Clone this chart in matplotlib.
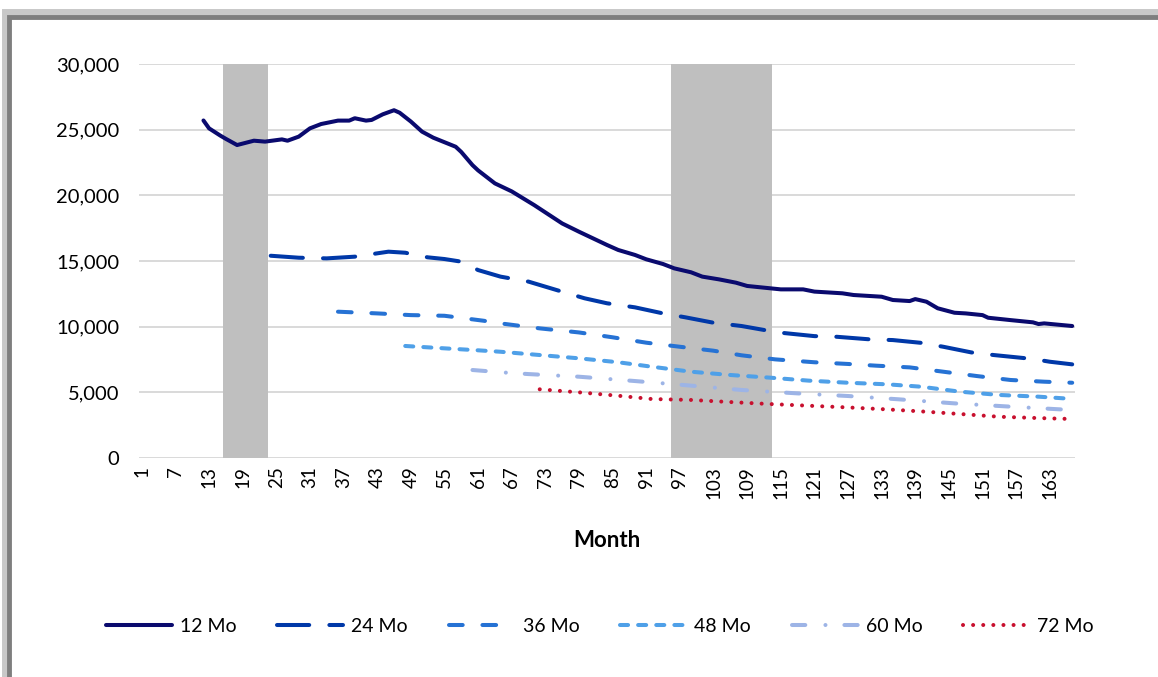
import matplotlib
matplotlib.use("Agg")
import matplotlib.pyplot as plt
from matplotlib.patches import Rectangle

plt.rcParams['font.family'] = ['Lato', 'DejaVu Sans']

# category axis: months 1..167
n_months = 167
tick_months = list(range(1, n_months + 1, 6))

# recession shading (months)
rec_months = list(range(16, 24)) + list(range(96, 114))
rec_height = 30000

# series: (month, value)
m12_x = [12, 13, 15, 16, 18, 21, 23, 26, 27, 29, 31, 33, 36, 38, 39, 41, 42, 44, 46, 47,
         49, 51, 53, 57, 58, 60, 61, 64, 67, 71, 76, 79, 84, 86, 89, 91, 94, 96, 99, 101,
         104, 107, 109, 112, 115, 119, 121, 126, 128, 133, 135, 138, 139, 141, 143, 146,
         148, 151, 152, 156, 160, 161, 162, 167]
m12_y = [25700, 25100, 24550, 24300, 23830, 24160, 24090, 24260, 24160, 24470, 25100, 25430,
         25690, 25690, 25870, 25690, 25740, 26170, 26480, 26290, 25620, 24850, 24390, 23700,
         23300, 22300, 21900, 20910, 20300, 19260, 17860, 17230, 16220, 15840, 15460, 15130,
         14770, 14440, 14140, 13810, 13600, 13350, 13100, 12970, 12840, 12840, 12670, 12540,
         12410, 12280, 12030, 11950, 12100, 11900, 11400, 11060, 11010, 10880, 10680, 10500,
         10330, 10200, 10250, 10050]

m24_x = [24, 29, 34, 39, 45, 48, 52, 55, 58, 61, 65, 70, 75, 80, 84, 89, 94, 98, 103, 108,
         112, 115, 121, 125, 131, 135, 140, 144, 149, 153, 160, 163, 167]
m24_y = [15400, 15250, 15200, 15330, 15710, 15630, 15280, 15150, 14950, 14310, 13810, 13430,
         12790, 12160, 11780, 11470, 11010, 10710, 10300, 10050, 9750, 9540, 9280, 9230, 9030,
         8980, 8770, 8470, 8040, 7840, 7540, 7330, 7130]

m36_x = [36, 43, 49, 55, 62, 65, 72, 79, 85, 91, 97, 103, 108, 114, 121, 127, 132, 138, 144,
         150, 156, 162, 167]
m36_y = [11140, 11010, 10880, 10830, 10450, 10250, 9870, 9560, 9190, 8780, 8470, 8170, 7820,
         7510, 7290, 7160, 7030, 6900, 6570, 6240, 5940, 5810, 5730]

m48_x = [48, 55, 61, 65, 72, 79, 86, 92, 99, 106, 113, 120, 127, 134, 140, 147, 154, 161, 167]
m48_y = [8530, 8350, 8200, 8090, 7840, 7590, 7290, 6950, 6570, 6320, 6120, 5890, 5730, 5610,
         5430, 5050, 4800, 4670, 4500]

m60_x = [60, 66, 70, 79, 89, 99, 108, 118, 127, 136, 146, 156, 165, 167]
m60_y = [6700, 6500, 6390, 6190, 5860, 5510, 5180, 4920, 4720, 4470, 4160, 3910, 3700, 3650]

m72_x = [72, 79, 86, 92, 99, 106, 113, 120, 127, 134, 140, 147, 154, 161, 167]
m72_y = [5230, 5000, 4740, 4490, 4420, 4260, 4110, 3980, 3850, 3700, 3550, 3350, 3140, 3040, 2970]


fig = plt.figure(figsize=(11.58, 6.77), dpi=100)
ax = fig.add_axes([139/1158, 1 - 458/677, 936/1158, 394/677])

ax.bar(rec_months, [rec_height]*len(rec_months), width=1.0, color='#BFBFBF', zorder=1)

lw = 2.9
ax.plot(m12_x, m12_y, color='#0A0A6E', lw=lw, solid_capstyle='round', label='12 Mo', zorder=3)
ax.plot(m24_x, m24_y, color='#0038A8', lw=lw, linestyle=(0, (8, 5)), dash_capstyle='round', label='24 Mo', zorder=3)
ax.plot(m36_x, m36_y, color='#2672D4', lw=lw, linestyle=(0, (3.4, 4.9)), dash_capstyle='round', label='36 Mo', zorder=3)
ax.plot(m48_x, m48_y, color='#4FA0E8', lw=lw, linestyle=(0, (2, 2.5)), dash_capstyle='round', label='48 Mo', zorder=3)
ax.plot(m60_x, m60_y, color='#9DB4E6', lw=lw, linestyle=(0, (3.3, 5.0, 0.01, 4.7)), dash_capstyle='round', label='60 Mo', zorder=3)
ax.plot(m72_x, m72_y, color='#C8102E', lw=lw, linestyle=(0, (0.01, 2.5)), dash_capstyle='round', label='72 Mo', zorder=3)

ax.set_xlim(0.5, n_months + 0.5)
ax.set_ylim(0, 30000)
ax.set_yticks(range(0, 30001, 5000))
ax.yaxis.set_major_formatter(matplotlib.ticker.FuncFormatter(lambda v, p: f"{int(v):,}"))
ax.set_xticks(tick_months)
ax.set_xticklabels([str(m) for m in tick_months], rotation=90, fontsize=13.5)
ax.tick_params(axis='y', labelsize=14.5, length=0, pad=14)
ax.tick_params(axis='x', length=0, pad=6)
ax.yaxis.grid(True, color='#D9D9D9', lw=1.4)
ax.set_axisbelow(True)
for s in ax.spines.values():
    s.set_visible(False)

ax.set_xlabel('Month', fontsize=16, fontweight='bold', labelpad=22)

fig.legend(loc='center', bbox_to_anchor=(0.518, 1 - 626/677), ncol=6, frameon=False,
           fontsize=14, handlelength=3.4, handletextpad=0.4, columnspacing=2.1)

# chart border with shadow
fig.patches.append(Rectangle((5/1158, -0.2), 1.2, 1.2 - 12/677, transform=fig.transFigure,
                             fill=False, edgecolor='#C8C8C8', lw=5, zorder=0))
fig.patches.append(Rectangle((9/1158, -0.2), 1.2, 1.2 - 17/677, transform=fig.transFigure,
                             fill=False, edgecolor='#7E7E7E', lw=3.5, zorder=0))

fig.savefig('out.png', dpi=100)
